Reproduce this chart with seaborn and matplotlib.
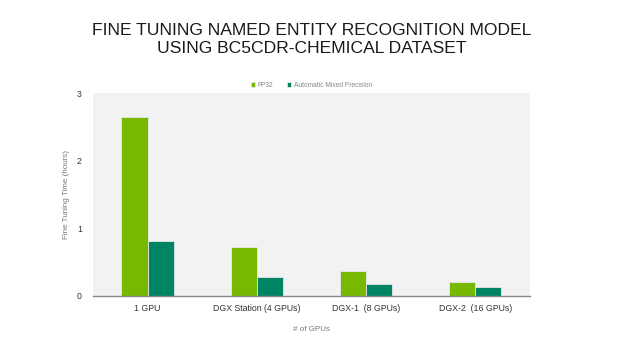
import numpy as np
import pandas as pd
import seaborn as sns
import matplotlib.pyplot as plt

configs = ['1 GPU', 'DGX Station (4 GPUs)', 'DGX-1  (8 GPUs)', 'DGX-2  (16 GPUs)']
fp32 = [2.64, 0.72, 0.37, 0.20]
amp = [0.81, 0.28, 0.18, 0.13]
series = ['FP32', 'Automatic Mixed Precision']

df = pd.DataFrame({
    'config': configs * 2,
    'hours': fp32 + amp,
    'precision': [series[0]] * 4 + [series[1]] * 4,
})

sns.set_style('white')
plt.rcParams['font.family'] = ['Liberation Sans', 'DejaVu Sans']

fig = plt.figure(figsize=(6.24, 3.51), dpi=100)
ax = fig.add_axes([0.149, 0.157, 0.7, 0.578])
ax.set_facecolor('#f2f2f2')

sns.barplot(data=df, x='config', y='hours', hue='precision', ax=ax,
            palette=['#76b900', '#008564'], width=0.48, saturation=1,
            edgecolor='#e8e8e8', linewidth=0.6)

ax.set_ylim(0, 3)
ax.set_xlim(-0.5, 3.5)
ax.set_yticks([0, 1, 2, 3])
ax.tick_params(axis='both', length=0, labelsize=6.3, colors='#333333')
ax.tick_params(axis='x', pad=6)
ax.tick_params(axis='y', pad=8)
for s in ['top', 'right', 'left']:
    ax.spines[s].set_visible(False)
ax.spines['bottom'].set_color('#888888')
ax.spines['bottom'].set_linewidth(1)

ax.set_xlabel('# of GPUs', fontsize=5.8, color='#777777', labelpad=9)
ax.set_ylabel('Fine Tuning Time (hours)', fontsize=5.8, color='#777777', labelpad=5)

leg = ax.legend(loc='lower center', bbox_to_anchor=(0.5, 1.0), ncol=2, frameon=False,
                fontsize=4.8, handlelength=0.7, handleheight=0.7, handletextpad=0.4,
                columnspacing=2.0, borderaxespad=0.2)
for t in leg.get_texts():
    t.set_color('#888888')

fig.text(0.5, 0.887, 'FINE TUNING NAMED ENTITY RECOGNITION MODEL\nUSING BC5CDR-CHEMICAL DATASET',
         ha='center', va='center', fontsize=12.6, color='#1a1a1a', linespacing=1.28)

fig.savefig('out.png', dpi=100, facecolor='white')
